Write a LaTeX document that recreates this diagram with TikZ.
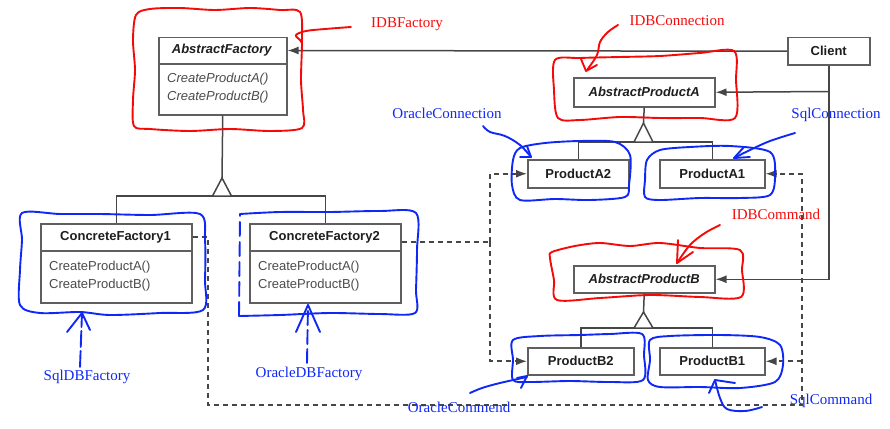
\documentclass[tikz,border=0pt]{standalone}
\usepackage{fontspec}
\setmainfont{Liberation Serif}
\newfontfamily\boxfont{Liberation Sans}
\usetikzlibrary{arrows.meta}
\definecolor{boxgray}{RGB}{95,95,95}
\definecolor{linegray}{RGB}{70,70,70}
\definecolor{txtdark}{RGB}{30,30,30}
\definecolor{hred}{RGB}{245,10,10}
\definecolor{hblue}{RGB}{15,40,245}
\begin{document}
\begin{tikzpicture}[x=1pt,y=-1pt,
  umlbox/.style={draw=boxgray, line width=1.5pt, fill=white, inner sep=0pt, anchor=north west},
  boxtitle/.style={font=\boxfont\bfseries\fontsize{13}{15}\selectfont, text=txtdark, inner sep=0pt},
  method/.style={font=\boxfont\fontsize{13}{15}\selectfont, text=txtdark!80, inner sep=0pt, anchor=west},
  conn/.style={draw=linegray, line width=1.5pt},
  dep/.style={draw=linegray, line width=1.6pt, dash pattern=on 5pt off 4pt},
  tipx/.style={-{Latex[length=11pt,width=8pt]}},
  gentri/.style={draw=linegray, line width=1.5pt, fill=white},
  hr/.style={draw=hred, line width=1.9pt, line cap=round, line join=round},
  hb/.style={draw=hblue, line width=1.9pt, line cap=round, line join=round},
  rlabel/.style={font=\fontsize{15}{17}\selectfont, text=hred, inner sep=0pt},
  blabel/.style={font=\fontsize{15}{17}\selectfont, text=hblue, inner sep=0pt}]
\useasboundingbox (0,0) rectangle (890,428);

% ---------- boxes ----------
\node[umlbox, minimum width=128pt, minimum height=77pt] (af) at (158,37) {};
\draw[boxgray, line width=1.4pt] (158,64) -- (286,64);
\node[boxtitle] (aft) at (222,50.5) {\textit{AbstractFactory}};
\node[method] (afm1) at (167,79) {\textit{CreateProductA()}};
\node[method] (afm2) at (167,97) {\textit{CreateProductB()}};

\node[umlbox, minimum width=82pt, minimum height=27pt] (client) at (787,37) {};
\node[boxtitle] (clientt) at (client.center) {Client};

\node[umlbox, minimum width=141pt, minimum height=29pt] (apa) at (573,77) {};
\node[boxtitle] (apat) at (apa.center) {\textit{AbstractProductA}};
\node[umlbox, minimum width=101pt, minimum height=28pt] (pa2) at (527,159) {};
\node[boxtitle] (pa2t) at (pa2.center) {ProductA2};
\node[umlbox, minimum width=105pt, minimum height=28pt] (pa1) at (659,159) {};
\node[boxtitle] (pa1t) at (pa1.center) {ProductA1};

\node[umlbox, minimum width=141pt, minimum height=27pt] (apb) at (573,265) {};
\node[boxtitle] (apbt) at (apb.center) {\textit{AbstractProductB}};
\node[umlbox, minimum width=106pt, minimum height=27pt] (pb2) at (527,347) {};
\node[boxtitle] (pb2t) at (pb2.center) {ProductB2};
\node[umlbox, minimum width=105pt, minimum height=27pt] (pb1) at (659,347) {};
\node[boxtitle] (pb1t) at (pb1.center) {ProductB1};

\node[umlbox, minimum width=151pt, minimum height=79pt] (cf1) at (40,223) {};
\draw[boxgray, line width=1.4pt] (40,251) -- (191,251);
\node[boxtitle] (cf1t) at (115.5,237) {ConcreteFactory1};
\node[method] (cf1m1) at (49,267) {CreateProductA()};
\node[method] (cf1m2) at (49,285) {CreateProductB()};

\node[umlbox, minimum width=151pt, minimum height=79pt] (cf2) at (249,223) {};
\draw[boxgray, line width=1.4pt] (249,251) -- (400,251);
\node[boxtitle] (cf2t) at (324.5,237) {ConcreteFactory2};
\node[method] (cf2m1) at (258,267) {CreateProductA()};
\node[method] (cf2m2) at (258,285) {CreateProductB()};

% ---------- connectors ----------
\draw[conn, tipx] (client.west) -- (aft -| af.east);
\coordinate (ca) at (828,91.5);
\draw[conn, tipx] (client.south) |- (apb.east);
\draw[conn, tipx] (ca) -- (apa.east);

% factory generalization
\coordinate (fapex) at (222,178);
\coordinate (fbase) at (222,196);
\draw[conn] (af.south) -- (fapex);
\draw[conn] (cf1.north) |- (fbase) -| (cf2.north);
\draw[gentri] (fapex) -- (212.5,196) -- (231.5,196) -- cycle;

% product A generalization
\coordinate (aapex) at (643.5,123);
\coordinate (abase) at (643.5,142);
\draw[conn] (apa.south) -- (aapex);
\draw[conn] (pa2.north) |- (abase) -| (pa1.north);
\draw[gentri] (aapex) -- (634,142) -- (653,142) -- cycle;

% product B generalization
\coordinate (bapex) at (643.5,312);
\coordinate (bbase) at (643.5,328);
\draw[conn] (apb.south) -- (bapex);
\draw[conn] (pb2.north) |- (bbase) -| (pb1.north);
\draw[gentri] (bapex) -- (634,328) -- (653,328) -- cycle;

% dependencies
\coordinate (k1) at (208,405);
\coordinate (k2) at (802,405);
\draw[dep, tipx] (cf1t -| cf1.east) -| (k1) -- (k2) |- (pa1.east);
\draw[dep, tipx] (k2 |- pb1.east) -- (pb1.east);
\coordinate (k3) at (490,242);
\draw[dep] (k3 -| cf2.east) -- (k3);
\draw[dep, tipx] (k3) |- (pa2.west);
\draw[dep, tipx] (k3) |- (pb2.west);

% ---------- hand-drawn annotations ----------
% red
\draw[hr] plot[smooth cycle, tension=0.5] coordinates {(136,15) (150,9) (180,8) (215,10) (250,8) (280,10) (300,12) (302,40) (301,80) (303,110) (302,128) (270,131) (230,129) (190,131) (150,129) (134,126) (133,100) (135,70) (133,40)};
\draw[hr] plot[smooth, tension=0.6] coordinates {(351,27) (325,29) (306,31) (296,35) (300,40) (302,43)};
\node[rlabel] (l1) at (407,24) {IDBFactory};

\draw[hr] plot[smooth cycle, tension=0.5] coordinates {(555,60) (580,58) (620,57) (660,56) (700,53) (734,51) (736,80) (735,118) (700,118) (660,118) (620,117) (580,120) (558,118) (554,90)};
\draw[hr] plot[smooth, tension=0.6] coordinates {(618,25) (608,32) (600,42) (597,55) (587,70)};
\draw[hr] (581,59) -- (586,71) -- (597,65);
\node[rlabel] (l2) at (677,21) {IDBConnection};

\draw[hr] plot[smooth cycle, tension=0.5] coordinates {(552,252) (575,246) (600,243) (630,246) (660,243) (700,248) (740,250) (742,270) (741,297) (700,297) (650,295) (600,298) (557,300) (554,280) (550,258)};
\draw[hr] plot[smooth, tension=0.6] coordinates {(720,225) (705,233) (690,245) (677,263)};
\draw[hr] (678,240) -- (677,263) -- (693,252);
\node[rlabel] (l3) at (776,214) {IDBCommand};

% blue
\draw[hb] plot[smooth cycle, tension=0.5] coordinates {(520,148) (545,143) (580,141) (615,142) (630,155) (629,185) (625,197) (590,200) (555,199) (520,200) (512,185) (513,160)};
\draw[hb] plot[smooth, tension=0.6] coordinates {(483,126) (490,132) (505,136) (520,145) (531,157)};
\draw[hb] (520,157) -- (531,157) -- (527,146);
\node[blabel] (l4) at (447,113) {OracleConnection};

\draw[hb] plot[smooth cycle, tension=0.5] coordinates {(647,160) (660,150) (690,147) (730,146) (770,152) (775,175) (770,195) (740,198) (700,198) (660,200) (645,197) (645,180)};
\draw[hb] plot[smooth, tension=0.6] coordinates {(795,133) (770,141) (750,150) (734,158)};
\draw[hb] (744,147) -- (734,158) -- (750,157);
\node[blabel] (l5) at (836,115) {SqlConnection};

\draw[hb] plot[smooth cycle, tension=0.5] coordinates {(513,340) (540,336) (580,335) (610,334) (642,334) (644,355) (643,380) (610,382) (570,381) (530,382) (513,380) (513,360)};
\draw[hb] plot[smooth, tension=0.6] coordinates {(470,393) (482,388) (500,383) (527,377)};
\draw[hb] (517,378) -- (527,376) -- (521,388);
\node[blabel] (l6) at (459,407) {OracleCommend};

\draw[hb] plot[smooth cycle, tension=0.5] coordinates {(650,340) (670,336) (720,335) (760,337) (780,345) (783,365) (775,382) (740,388) (700,387) (660,387) (648,380) (650,360)};
\draw[hb] plot[smooth, tension=0.6] coordinates {(762,407) (745,411) (727,409) (720,398) (715,380)};
\draw[hb] (709,393) -- (715,380) -- (735,383);
\node[blabel] (l7) at (831,401) {SqlCommand};

\draw[hb] plot[smooth cycle, tension=0.5] coordinates {(22,213) (60,214) (100,214) (150,215) (200,214) (205,240) (205,280) (203,310) (160,313) (110,315) (80,312) (40,313) (20,305) (20,270) (22,240)};
\draw[hb, dash pattern=on 16pt off 4pt] (80,367) -- (82,313);
\draw[hb] (67,332) -- (82,313) -- (90,330);
\node[blabel] (l8) at (87,377) {SqlDBFactory};

\draw[hb] plot[smooth, tension=0.5] coordinates {(240,214) (280,212) (330,212) (380,211) (416,213) (417,250) (416,290) (415,313) (380,314) (330,313) (280,315) (239,316)};
\draw[hb, dash pattern=on 14pt off 6pt] (239,316) -- (240,214);
\draw[hb, dash pattern=on 14pt off 5pt] (307,363) -- (308,305);
\draw[hb] (296,332) -- (308,305) -- (320,332);
\node[blabel] (l9) at (309,374) {OracleDBFactory};
\end{tikzpicture}
\end{document}
